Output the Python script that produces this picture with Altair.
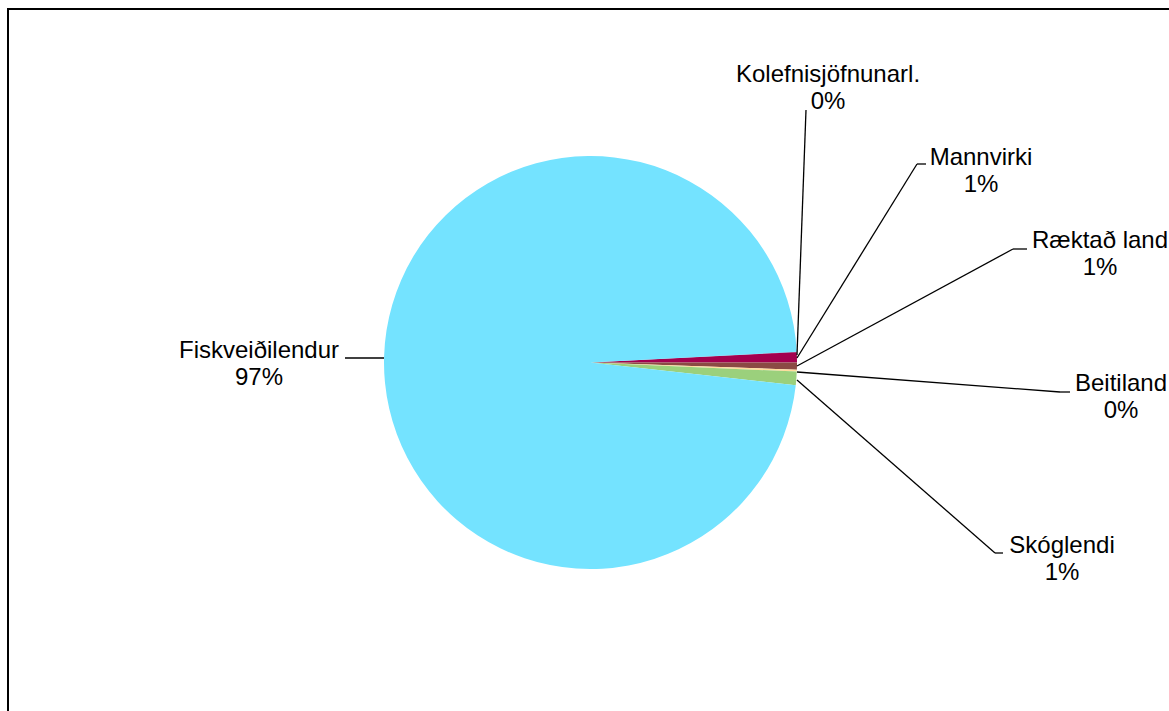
import altair as alt
import pandas as pd
import math

# ---- data ----
categories = ["Kolefnisjöfnunarl.", "Mannvirki", "Ræktað land", "Beitiland", "Skóglendi", "Fiskveiðilendur"]
shares = [0.03, 0.80, 0.55, 0.15, 1.05, 97.42]
pct_labels = ["0%", "1%", "1%", "0%", "1%", "97%"]
colors = ["#3A3A8C", "#A3004F", "#8B4A44", "#FFDD9C", "#9BD07C", "#74E3FF"]

# ---- layout (annotation positions, pixels) ----
cx, cy, R = 590.5, 362.5, 206.5
label_x = [828, 981, 1100, 1121, 1062, 259]
label_y = [82, 165, 248, 391, 553, 358]
leader_pts = [
    [(797, 355), (806, 110)],
    [(797, 358), (917, 164), (926, 164)],
    [(797, 366), (1013, 249), (1027, 249)],
    [(797, 372), (1060, 392), (1070, 392)],
    [(797, 380), (995, 553), (1003, 553)],
    [(384, 358), (345, 358)],
]

start = math.radians(90 - (shares[0] + shares[1]) * 3.6)

pie_df = pd.DataFrame({"cat": categories, "val": shares, "idx": list(range(len(categories)))})

pie = alt.Chart(pie_df).mark_arc(radius=R, strokeWidth=0).encode(
    theta=alt.Theta("val:Q", stack=True, scale=alt.Scale(range=[start, start + 2 * math.pi])),
    order=alt.Order("idx:Q"),
    color=alt.Color("cat:N", scale=alt.Scale(domain=categories, range=colors), legend=None),
    x=alt.value(cx),
    y=alt.value(cy),
)

segs = []
for pts in leader_pts:
    for (a, b) in zip(pts[:-1], pts[1:]):
        segs.append({"x": a[0], "y": a[1], "x2": b[0], "y2": b[1]})
seg_df = pd.DataFrame(segs)

leaders = alt.Chart(seg_df).mark_rule(color="black", strokeWidth=1.3).encode(
    x=alt.X("x:Q", scale=None),
    y=alt.Y("y:Q", scale=None),
    x2="x2:Q",
    y2="y2:Q",
)

txt_rows = []
for c, p, lx, ly in zip(categories, pct_labels, label_x, label_y):
    txt_rows.append({"t": c, "x": lx, "y": ly})
    txt_rows.append({"t": p, "x": lx, "y": ly + 27})
txt_df = pd.DataFrame(txt_rows)

texts = alt.Chart(txt_df).mark_text(
    font="Liberation Sans", fontSize=24, align="center", baseline="alphabetic", color="black"
).encode(
    x=alt.X("x:Q", scale=None),
    y=alt.Y("y:Q", scale=None),
    text="t:N",
)

frame = alt.Chart(pd.DataFrame({"a": [0]})).mark_rect(
    fill=None, stroke="black", strokeWidth=2
).encode(
    x=alt.value(8), x2=alt.value(1190), y=alt.value(9), y2=alt.value(730)
)

chart = alt.layer(frame, pie, leaders, texts).properties(
    width=1169, height=711, padding=0,
    autosize=alt.AutoSizeParams(type="none"),
    background="white",
).configure_view(stroke=None)

chart.save("out.html", embed_options={"renderer": "svg", "actions": False})
